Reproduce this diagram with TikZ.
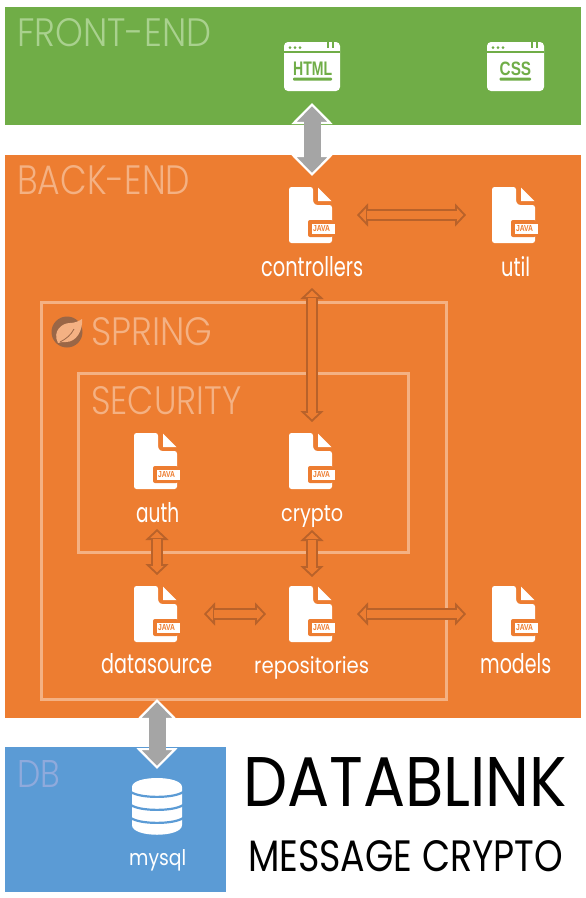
\documentclass[tikz,border=0pt]{standalone}
\usepackage{fontspec}
\usepackage{graphicx}
\setmainfont{Poppins}
\newfontfamily\lightf{Poppins Light}
\newfontfamily\iconf{Liberation Sans}
\usetikzlibrary{arrows.meta,calc}
\definecolor{fegreen}{HTML}{70AD47}
\definecolor{beorange}{HTML}{ED7D31}
\definecolor{dbblue}{HTML}{5B9BD5}
\definecolor{fehead}{HTML}{A9D18E}
\definecolor{behead}{HTML}{F4B183}
\definecolor{dbhead}{HTML}{8FAADC}
\definecolor{arrowdark}{HTML}{B9622A}
\definecolor{biggray}{HTML}{A5A5A5}
\definecolor{springbrown}{HTML}{9A6646}
\tikzset{
  panel/.style={draw=none,inner sep=0},
  frameline/.style={draw=behead,line width=3pt},
  iconbox/.style={inner sep=0,minimum width=46pt,minimum height=56pt},
  label/.style={anchor=base west,inner sep=0,text=white},
  heading/.style={anchor=base west,inner sep=0},
  dbl/.style={double=beorange,double distance=8pt,line width=1.8pt,draw=arrowdark,
    {Triangle[length=11pt,width=23pt,fill=beorange,color=arrowdark,line width=1.8pt]}-{Triangle[length=11pt,width=23pt,fill=beorange,color=arrowdark,line width=1.8pt]}},
  big/.style={line width=17pt,draw=biggray,
    {Triangle[length=21pt,width=41pt,fill=biggray,color=white,line width=2.2pt]}-{Triangle[length=21pt,width=41pt,fill=biggray,color=white,line width=2.2pt]}}
}
% name, left x, top y
\newcommand{\fileicon}[3]{%
  \node[iconbox] (#1) at (#2+23,#3+28) {};
  \begin{scope}[shift={(#2,#3)}]
    \fill[white,rounded corners=2.5pt] (0,0) -- (24,0) -- (24,15) -- (26,18) -- (43,18) -- (43,56) -- (0,56) -- cycle;
    \fill[white] (29,0.5) -- (42.5,14) -- (29,14) -- cycle;
    \fill[beorange,rounded corners=2pt] (19,33) rectangle (44,50);
    \fill[white] (23,37) rectangle (46,47);
    \node[inner sep=0,text=beorange] (#1-java) at (32.5,42) {\resizebox{17pt}{6pt}{\iconf\bfseries JAVA}};
  \end{scope}}
% name, left x, right x, label, text left, text right
\newcommand{\webicon}[6]{%
  \node[inner sep=0,minimum width=#3pt-#2pt,minimum height=49pt] (#1) at (#2/2+#3/2,66.5) {};
  \fill[white,rounded corners=4pt] (#2,42) rectangle (#3,91);
  \fill[fegreen] (#2,51) rectangle (#3,52.5);
  \foreach \d in {6,11,16} {\fill[fegreen] (#2+\d,47.5) circle (1.5);}
  \fill[fegreen] (#3-13,42) rectangle (#3-11,48);
  \fill[fegreen] (#3-8,42) rectangle (#3-6,48);
  \fill[fegreen,rounded corners=1pt] (#5,77.5) rectangle (#6,80.5);
  \node[anchor=base west,inner sep=0,text=fegreen] (#1-text) at (#5,75) {\resizebox{\dimexpr#6pt-#5pt\relax}{13.5pt}{\iconf\bfseries #4}};}
\newcommand{\txt}[7]{\node[#1] (#2) at (#3,#4) {\resizebox{#5pt}{#6pt}{#7}};}
\newcommand{\linkarrow}[4]{%
  \draw[dbl,shorten <=#3pt,shorten >=#4pt] (#1.center) -- (#2.center);
  \draw[beorange,line width=8pt,shorten <=#3pt+9.5pt,shorten >=#4pt+9.5pt] (#1.center) -- (#2.center);}
\newcommand{\bigarrow}[4]{%
  \draw[big,shorten <=#3pt,shorten >=#4pt] (#1.center) -- (#2.center);
  \draw[biggray,line width=17pt,shorten <=#3pt+15pt,shorten >=#4pt+15pt] (#1.center) -- (#2.center);}
\begin{document}
\begin{tikzpicture}[x=1pt,y=-1pt]
\useasboundingbox (0,0) rectangle (586,898);
\fill[white] (0,0) rectangle (586,898);
% panels
\node[panel,fill=fegreen,minimum width=576pt,minimum height=118pt] (front) at (293,66) {};
\node[panel,fill=beorange,minimum width=576pt,minimum height=563pt] (back) at (293,436.5) {};
\node[panel,fill=dbblue,minimum width=221pt,minimum height=145pt] (db) at (115.5,819.5) {};
\node[frameline,inner sep=0,minimum width=405pt,minimum height=397pt] (spring) at (243.5,500.5) {};
\node[frameline,inner sep=0,minimum width=330pt,minimum height=179pt] (security) at (243,462.5) {};
% headings
\txt{heading,text=fehead}{h1}{17}{46}{194}{28}{\lightf FRONT-END}
\txt{heading,text=behead}{h2}{17}{194}{173}{29}{\lightf BACK-END}
\txt{heading,text=behead}{h3}{91}{345}{121}{28}{\lightf SPRING}
\txt{heading,text=behead}{h4}{91}{414}{150}{28}{\lightf SECURITY}
\txt{heading,text=dbhead}{h5}{17}{787}{43}{27}{\lightf DB}
\txt{heading,text=black}{title}{243}{806}{324}{49}{DATABLINK}
\txt{heading,text=black}{subtitle}{248}{871}{315}{31}{MESSAGE CRYPTO}
% spring logo
\node[circle,fill=springbrown,inner sep=0,minimum size=31pt] (logo) at (67,332) {};
\fill[behead] (58,343) .. controls (52,331) and (62,323) .. (70,323) .. controls (75,323) and (79,321) .. (82,319) .. controls (83,331) and (76,342) .. (66,342) .. controls (63,342) and (60,342) .. (58,343) -- cycle;
\draw[springbrown,line width=0.8pt] (60,342) .. controls (66,339) and (71,335) .. (74,329);
% icons
\webicon{html}{284}{340}{HTML}{293}{332}
\webicon{css}{487}{544}{CSS}{499.5}{531}
\fileicon{controllers}{289}{187}
\fileicon{util}{492}{187}
\fileicon{auth}{134}{433}
\fileicon{crypto}{289}{433}
\fileicon{datasource}{134}{586}
\fileicon{repositories}{289}{586}
\fileicon{models}{492}{586}
% database icon
\node[inner sep=0,minimum width=50pt,minimum height=57pt] (mysql) at (157,806.5) {};
\fill[white] (132,787) .. controls (132,775) and (182,775) .. (182,787) -- (182,825) .. controls (182,838) and (132,838) .. (132,825) -- cycle;
\foreach \yy in {792,805,818} {\draw[dbblue,line width=2.2pt] (131,\yy) .. controls (140,\yy+6.5) and (174,\yy+6.5) .. (183,\yy);}
% labels
\txt{label}{l1}{261}{276}{102}{20}{controllers}
\txt{label}{l2}{501}{276}{29}{20}{util}
\txt{label}{l3}{136}{522}{43}{20}{auth}
\txt{label}{l4}{281}{521}{62}{16}{crypto}
\txt{label}{l5}{101}{673}{111}{20}{datasource}
\txt{label}{l6}{254}{673}{115}{17}{repositories}
\txt{label}{l7}{480}{673}{71}{20}{models}
\txt{label}{l8}{129}{865}{57}{16}{mysql}
% connectors
\bigarrow{html}{controllers}{36.5}{39}
\bigarrow{datasource}{mysql}{85}{37.5}
\linkarrow{controllers}{util}{45}{49}
\linkarrow{controllers}{crypto}{73}{39}
\linkarrow{auth}{datasource}{68}{39}
\linkarrow{crypto}{repositories}{69}{37}
\linkarrow{datasource}{repositories}{47}{46}
\linkarrow{repositories}{models}{45}{49}
\end{tikzpicture}
\end{document}
